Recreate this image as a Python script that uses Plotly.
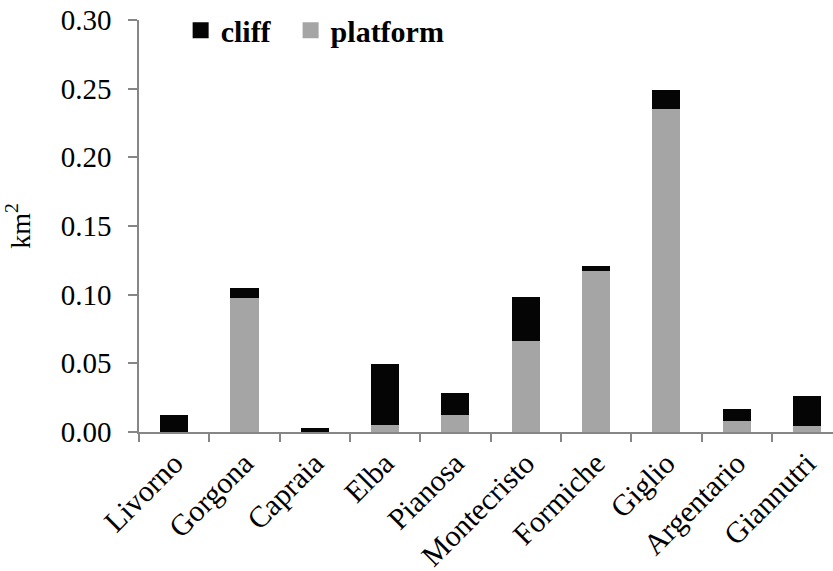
import plotly.graph_objects as go

# Coastal landform areas per island / site (km²)
sites = ["Livorno", "Gorgona", "Capraia", "Elba", "Pianosa",
         "Montecristo", "Formiche", "Giglio", "Argentario", "Giannutri"]
platform = [0.0, 0.0978, 0.0, 0.0049, 0.0127, 0.0660, 0.1176, 0.2354, 0.0080, 0.0047]
cliff = [0.0127, 0.0070, 0.0032, 0.0446, 0.0160, 0.0326, 0.0030, 0.0134, 0.0087, 0.0215]

CLIFF_COLOR = "#050505"
PLATFORM_COLOR = "#a5a5a5"
AXIS_COLOR = "#868686"
FONT = "Liberation Serif"

fig = go.Figure()

# stacked bars: platform at the base, cliff on top
fig.add_trace(go.Bar(x=sites, y=platform, name="platform",
                     marker=dict(color=PLATFORM_COLOR, line=dict(width=0)),
                     showlegend=False))
fig.add_trace(go.Bar(x=sites, y=cliff, name="cliff",
                     marker=dict(color=CLIFF_COLOR, line=dict(width=0)),
                     showlegend=False))

# legend entries with larger square swatches (non-breaking spaces widen the first item)
for name, color in [("cliff\u00a0\u00a0", CLIFF_COLOR), ("platform", PLATFORM_COLOR)]:
    fig.add_trace(go.Scatter(x=[None], y=[None], mode="markers", name=name,
                             marker=dict(symbol="square", size=16, color=color)))

fig.update_layout(
    width=833, height=571,
    barmode="stack",
    bargap=0.6,
    paper_bgcolor="white",
    plot_bgcolor="white",
    margin=dict(l=139, r=0, t=20, b=139, pad=0, autoexpand=False),
    font=dict(family=FONT, size=28, color="black"),
    legend=dict(orientation="h", x=0.06, y=0.975, xanchor="left", yanchor="middle",
                traceorder="normal",
                font=dict(family=FONT, size=30, color="black", weight="bold"),
                itemwidth=30, tracegroupgap=0, bgcolor="rgba(0,0,0,0)",
                itemsizing="trace"),
    xaxis=dict(
        type="category",
        range=[-0.5, 9.37],
        automargin=False,
        showline=True, linecolor=AXIS_COLOR, linewidth=1.5,
        ticks="outside", tickson="boundaries", ticklen=8,
        tickcolor=AXIS_COLOR, tickwidth=1.5,
        tickangle=-45,
        tickfont=dict(family=FONT, size=30, color="black"),
        showgrid=False, zeroline=False,
    ),
    yaxis=dict(
        range=[0, 0.30], dtick=0.05, tick0=0, tickformat=".2f",
        automargin=False,
        showline=True, linecolor=AXIS_COLOR, linewidth=1.5,
        ticks="outside", ticklen=9, tickcolor=AXIS_COLOR, tickwidth=1.5,
        ticklabelstandoff=11,
        tickfont=dict(family=FONT, size=29, color="black"),
        showgrid=False, zeroline=False,
        title=dict(text="km<sup>2</sup>", font=dict(family=FONT, size=28, color="black"),
                   standoff=22),
    ),
)

fig.write_html("out.html")
